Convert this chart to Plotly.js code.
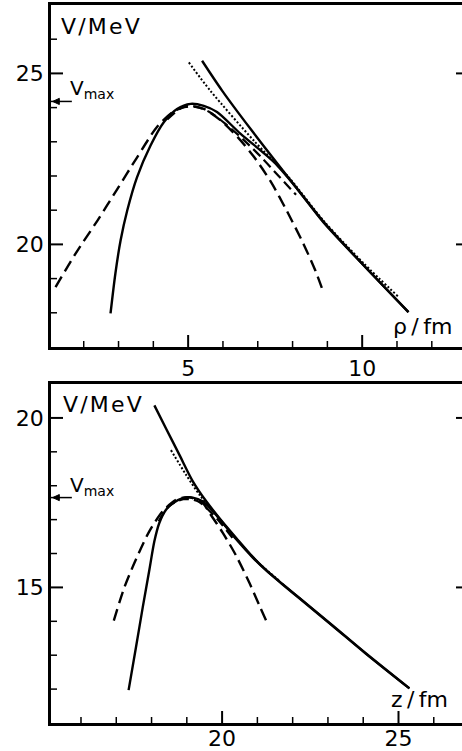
<!DOCTYPE html>
<html>
<head>
<meta charset="utf-8">
<script src="https://cdn.plot.ly/plotly-3.0.1.min.js"></script>
<style>
  html, body { margin: 0; padding: 0; overflow: hidden; background: #fff; }
  #chart { width: 472px; height: 751px; }
</style>
</head>
<body>
<div id="chart"></div>
<script>
// upper panel: V against rho (fm)
var rhoSolid = [2.77, 2.91, 3.06, 3.25, 3.53, 3.92, 4.30, 4.68, 5.07, 5.45, 5.83, 6.50, 7.46, 8.13, 8.89, 10.04, 11.33];
var vRhoSolid = [17.98, 19.15, 20.12, 20.99, 21.96, 22.89, 23.57, 23.96, 24.11, 24.05, 23.87, 23.24, 22.41, 21.63, 20.64, 19.39, 18.02];
var rhoCoul = [5.40, 5.98, 6.79, 8.13, 8.89, 10.04, 11.33];
var vRhoCoul = [25.37, 24.49, 23.38, 21.63, 20.66, 19.39, 18.02];
var rhoDot = [5.02, 5.64, 6.89, 7.90, 8.90, 10.04, 11.05];
var vRhoDot = [25.32, 24.49, 23.03, 21.95, 20.68, 19.45, 18.46];
var rhoDash = [1.19, 1.76, 2.39, 2.96, 3.53, 4.11, 4.59, 4.97, 5.45, 5.93, 6.41, 6.89, 7.37, 7.84, 8.32, 8.66, 8.90];
var vRhoDash = [18.75, 19.72, 20.69, 21.61, 22.54, 23.44, 23.89, 24.04, 23.96, 23.63, 23.15, 22.56, 21.84, 20.97, 20.00, 19.22, 18.56];
var rhoDash2 = [4.4, 4.8, 5.2, 5.6, 6.1, 6.6, 7.1, 7.6, 8.1];
var vRhoDash2 = [23.65, 23.98, 24.03, 23.88, 23.50, 23.05, 22.55, 22.0, 21.45];
var vmaxRho = 24.18;
var rhoTicks = [2, 3, 4, 5, 6, 7, 8, 9, 10, 11, 12];
var vRhoTicks = [18, 19, 20, 21, 22, 23, 24, 25, 26];

// lower panel: V against z (fm)
var zSolid = [17.35, 17.56, 17.75, 17.94, 18.08, 18.22, 18.41, 18.60, 18.88, 19.17, 19.45, 19.74, 20.02, 20.40, 20.87, 21.25, 21.70, 22.19, 23.14, 24.08, 25.31];
var vZSolid = [11.97, 13.24, 14.41, 15.53, 16.36, 16.90, 17.29, 17.48, 17.63, 17.65, 17.54, 17.25, 16.90, 16.42, 15.88, 15.50, 15.10, 14.68, 13.86, 13.04, 12.02];
var zCoul = [18.08, 18.41, 18.79, 19.17, 19.55, 19.92, 20.40, 20.87, 21.25, 21.70, 22.19, 23.14, 24.08, 25.31];
var vZCoul = [20.37, 19.69, 18.91, 18.13, 17.54, 17.05, 16.46, 15.90, 15.51, 15.11, 14.69, 13.87, 13.05, 12.02];
var zDot = [18.55, 18.98, 19.36, 19.74, 20.21, 20.70, 21.06, 21.63];
var vZDot = [19.05, 18.32, 17.73, 17.25, 16.66, 16.08, 15.70, 15.19];
var zDash = [16.93, 17.23, 17.56, 17.94, 18.32, 18.70, 19.07, 19.45, 19.64, 20.02, 20.40, 20.78, 21.06, 21.25];
var vZDash = [14.02, 15.00, 15.83, 16.66, 17.25, 17.59, 17.66, 17.49, 17.20, 16.61, 15.93, 15.12, 14.46, 14.02];
var zDash2 = [18.2, 18.5, 18.9, 19.3, 19.7, 20.0, 20.3];
var vZDash2 = [16.95, 17.40, 17.60, 17.55, 17.20, 16.85, 16.45];
var vmaxZ = 17.65;
var zTicks = [16, 17, 18, 19, 20, 21, 22, 23, 24, 25, 26];
var vZTicks = [12, 13, 14, 15, 16, 17, 18, 19, 20];

var fnt = "DejaVu Sans, Arial, sans-serif";

function curve(x, y, xa, ya, dash, w) {
    return {
        x: x, y: y, xaxis: xa, yaxis: ya,
        type: "scatter", mode: "lines", hoverinfo: "skip",
        line: {color: "black", width: w, dash: dash, shape: "spline", smoothing: 0.8}
    };
}

var data = [
    curve(rhoDash, vRhoDash, "x", "y", "12px,6px", 2.4),
    curve(rhoDash2, vRhoDash2, "x", "y", "10px,5px", 2.2),
    curve(rhoDot, vRhoDot, "x", "y", "2px,2px", 2),
    curve(rhoCoul, vRhoCoul, "x", "y", "solid", 2.4),
    curve(rhoSolid, vRhoSolid, "x", "y", "solid", 2.4),
    curve(zDash, vZDash, "x2", "y2", "12px,6px", 2.4),
    curve(zDash2, vZDash2, "x2", "y2", "10px,5px", 2.2),
    curve(zDot, vZDot, "x2", "y2", "2px,2px", 2),
    curve(zCoul, vZCoul, "x2", "y2", "solid", 2.4),
    curve(zSolid, vZSolid, "x2", "y2", "solid", 2.4)
];

var tickFont = {family: fnt, size: 22, color: "black"};
var lblFont = {family: fnt, size: 22, color: "black"};
var hs = "\u200a";

// inward tick marks drawn as shapes: long at multiples of 5, short otherwise
function tickShapes(xa, ya, xt, yt, wPx, hPx) {
    var out = [];
    xt.forEach(function (v) {
        var len = (v % 5 === 0 ? 12 : 6) / hPx;
        out.push({type: "line", xref: xa, yref: ya + " domain", x0: v, x1: v, y0: 0, y1: len,
                  line: {color: "black", width: v % 5 === 0 ? 2 : 1.5}});
    });
    yt.forEach(function (v) {
        var len = (v % 5 === 0 ? 12 : 6) / wPx;
        var w = v % 5 === 0 ? 2 : 1.5;
        out.push({type: "line", xref: xa + " domain", yref: ya, x0: 0, x1: len, y0: v, y1: v,
                  line: {color: "black", width: w}});
        out.push({type: "line", xref: xa + " domain", yref: ya, x0: 1 - len, x1: 1, y0: v, y1: v,
                  line: {color: "black", width: w}});
    });
    return out;
}

function vmaxShapes(xa, ya, v) {
    return [
        {type: "line", xref: xa + " domain", yref: ya, x0: 0, x1: 0.05, y0: v, y1: v,
         line: {color: "black", width: 1.5}},
        {type: "path", xref: xa + " domain", yref: ya, fillcolor: "black", line: {color: "black", width: 1},
         path: "M 0.004 " + v + " L 0.02 " + (v + 0.09) + " L 0.02 " + (v - 0.09) + " Z"}
    ];
}
function vmaxNote(xa, ya, v) {
    return {xref: xa + " domain", yref: ya, x: 0.041, y: v, text: "V<sub>max</sub>", showarrow: false,
            xanchor: "left", yanchor: "bottom", yshift: -3, font: {family: fnt, size: 20, color: "black"}};
}

function frameAxis(extra) {
    var a = {showline: true, linecolor: "black", linewidth: 2.5, mirror: true,
             showgrid: false, zeroline: false, ticks: "",
             tickmode: "linear", tick0: 0, dtick: 5, tickfont: tickFont};
    for (var k in extra) a[k] = extra[k];
    return a;
}

var topLow = 0.5237, lowTop = 0.4721;

var layout = {
    width: 472, height: 751,
    margin: {l: 51, r: 4, t: 5, b: 28},
    paper_bgcolor: "white", plot_bgcolor: "white",
    showlegend: false,
    xaxis: frameAxis({domain: [0, 1], anchor: "y", range: [1.06, 13.04]}),
    yaxis: frameAxis({domain: [topLow, 1], anchor: "x", range: [17, 27]}),
    xaxis2: frameAxis({domain: [0, 1], anchor: "y2", range: [15.15, 26.97], ticklabelstandoff: -6}),
    yaxis2: frameAxis({domain: [0, lowTop], anchor: "x2", range: [11, 21]}),
    shapes: tickShapes("x", "y", rhoTicks, vRhoTicks, 417, 342)
        .concat(tickShapes("x2", "y2", zTicks, vZTicks, 417, 339))
        .concat(vmaxShapes("x", "y", vmaxRho), vmaxShapes("x2", "y2", vmaxZ)),
    annotations: [
        {xref: "x domain", yref: "y domain", x: 0.02, y: 0.936, text: "V" + hs + "/" + hs + "M" + hs + "e" + hs + "V",
         showarrow: false, xanchor: "left", yanchor: "middle", font: lblFont},
        {xref: "x domain", yref: "y domain", x: 0.816, y: 0.061, text: "\u03c1\u2009/\u2009fm",
         showarrow: false, xanchor: "left", yanchor: "middle", font: lblFont},
        {xref: "x2 domain", yref: "y2 domain", x: 0.025, y: 0.941, text: "V" + hs + "/" + hs + "M" + hs + "e" + hs + "V",
         showarrow: false, xanchor: "left", yanchor: "middle", font: lblFont},
        {xref: "x2 domain", yref: "y2 domain", x: 0.811, y: 0.068, text: "z\u2009/\u2009fm",
         showarrow: false, xanchor: "left", yanchor: "middle", font: lblFont},
        vmaxNote("x", "y", vmaxRho),
        vmaxNote("x2", "y2", vmaxZ)
    ]
};

Plotly.newPlot("chart", data, layout, {displayModeBar: false});
</script>
</body>
</html>
